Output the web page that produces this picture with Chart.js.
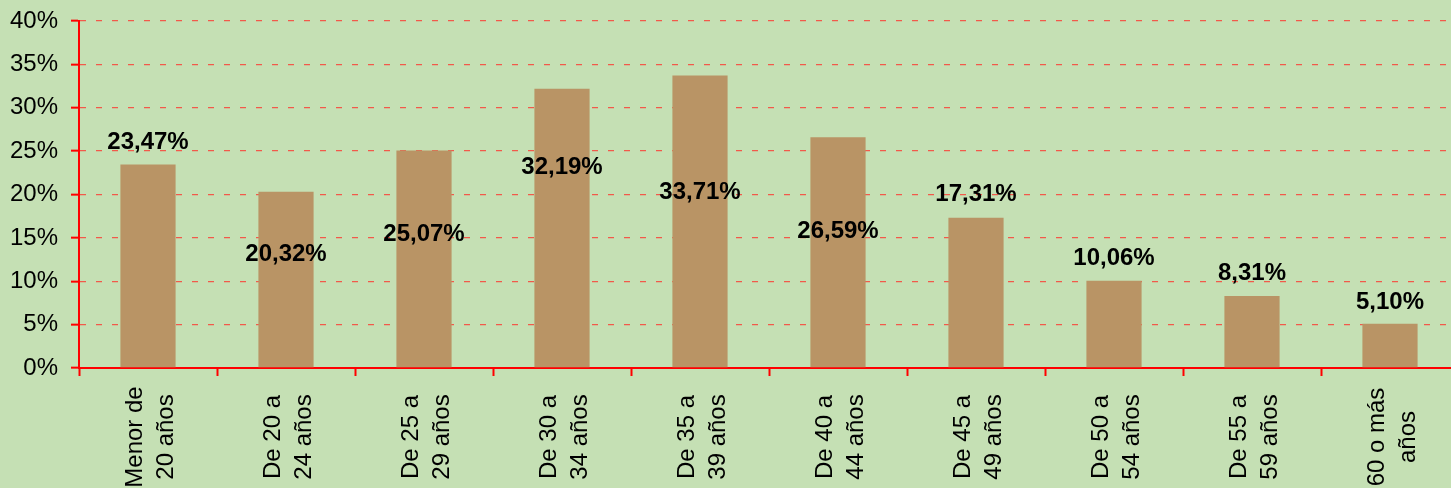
<!DOCTYPE html>
<html>
<head>
<meta charset="utf-8">
<script src="https://cdn.jsdelivr.net/npm/chart.js@4.4.1/dist/chart.umd.min.js"></script>
<style>
  html, body { margin: 0; padding: 0; background: #c5e0b4; overflow: hidden; }
  #wrap { width: 1459px; height: 488px; }
</style>
</head>
<body>
<div id="wrap"><canvas id="c" width="1459" height="488"></canvas></div>
<script>
// ---- data ----
const categories = [
  ["Menor de", "20 años"],
  ["De 20 a", "24 años"],
  ["De 25 a", "29 años"],
  ["De 30 a", "34 años"],
  ["De 35 a", "39 años"],
  ["De 40 a", "44 años"],
  ["De 45 a", "49 años"],
  ["De 50 a", "54 años"],
  ["De 55 a", "59 años"],
  ["60 o más", "años"]
];
const values = [23.47, 20.32, 25.07, 32.19, 33.71, 26.59, 17.31, 10.06, 8.31, 5.10];
const valueLabels = ["23,47%", "20,32%", "25,07%", "32,19%", "33,71%", "26,59%", "17,31%", "10,06%", "8,31%", "5,10%"];
// where each data label sits, in axis units (%)
const labelAnchor = [26.28, 13.28, 15.58, 23.31, 20.53, 15.92, 20.2, 12.81, 11.09, 7.77];
const yTicks = [0, 5, 10, 15, 20, 25, 30, 35, 40];

const FONT = "'Liberation Sans', Arial, sans-serif";

const labelPlugin = {
  id: 'labels',
  afterDatasetsDraw(chart) {
    const ctx = chart.ctx;
    const xs = chart.scales.x, ys = chart.scales.y;
    ctx.save();
    ctx.fillStyle = '#000';
    // data labels
    ctx.font = "bold 24px " + FONT;
    ctx.textAlign = 'center';
    ctx.textBaseline = 'alphabetic';
    valueLabels.forEach((t, i) => {
      const x = xs.getPixelForValue(i);
      const y = ys.getPixelForValue(labelAnchor[i]);
      ctx.fillText(t, x, y + 8.6);
    });
    // category labels, rotated
    ctx.font = "24px " + FONT;
    categories.forEach((lines, i) => {
      const x = xs.getPixelForValue(i);
      ctx.save();
      ctx.translate(x, 437);
      ctx.rotate(-Math.PI / 2);
      ctx.textAlign = 'center';
      ctx.fillText(lines[0], 0, -6);
      ctx.fillText(lines[1], 0, 25);
      ctx.restore();
    });
    ctx.restore();
  }
};

new Chart(document.getElementById('c'), {
  type: 'bar',
  data: {
    labels: categories.map(l => l.join(' ')),
    datasets: [{
      data: values,
      backgroundColor: '#b99465',
      borderWidth: 0,
      barPercentage: 0.4,
      categoryPercentage: 1.0
    }]
  },
  options: {
    responsive: false,
    animation: false,
    layout: { padding: { top: 21, right: 0, bottom: 0, left: 0 } },
    plugins: { legend: { display: false }, tooltip: { enabled: false } },
    scales: {
      x: {
        offset: true,
        grid: {
          display: true,
          offset: true,
          drawOnChartArea: false,
          drawTicks: true,
          tickLength: 8,
          tickColor: '#ff0000',
          tickWidth: 2
        },
        border: { display: true, color: '#ff0000', width: 2 },
        ticks: { display: false },
        afterFit(scale) { scale.height = 120; scale.paddingLeft = 0; scale.paddingRight = 0; }
      },
      y: {
        min: 0,
        max: 40,
        afterBuildTicks(scale) { scale.ticks = yTicks.map(v => ({ value: v })); },
        ticks: {
          stepSize: 5,
          padding: 13,
          color: '#000',
          font: { family: FONT, size: 24 },
          callback: v => v + '%'
        },
        grid: {
          color: '#f2594a',
          lineWidth: 1.3,
          tickColor: '#ff0000',
          tickWidth: 2,
          tickLength: 8,
          tickBorderDash: []
        },
        border: { display: true, color: '#ff0000', width: 2, dash: [6, 10] },
        afterFit(scale) { scale.width = 79; scale.paddingTop = 0; scale.paddingBottom = 0; }
      }
    }
  },
  plugins: [labelPlugin]
});
</script>
</body>
</html>
